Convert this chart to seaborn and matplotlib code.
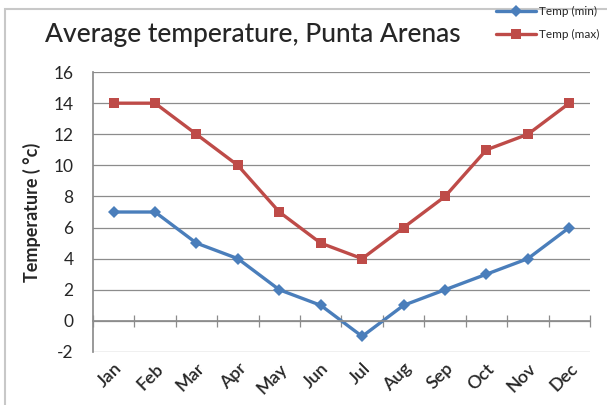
import pandas as pd
import matplotlib.pyplot as plt
import seaborn as sns
import numpy as np

# data
months = ['Jan', 'Feb', 'Mar', 'Apr', 'May', 'Jun', 'Jul', 'Aug', 'Sep', 'Oct', 'Nov', 'Dec']
temp_min = [7, 7, 5, 4, 2, 1, -1, 1, 2, 3, 4, 6]
temp_max = [14, 14, 12, 10, 7, 5, 4, 6, 8, 11, 12, 14]
yticks = list(range(-2, 17, 2))

df = pd.DataFrame({'idx': np.arange(len(months)), 'min': temp_min, 'max': temp_max})

sns.set_theme(style="white")
plt.rcParams['font.family'] = ['Lato', 'DejaVu Sans']

fig = plt.figure(figsize=(6.07, 4.05), dpi=100)
ax = fig.add_axes([0.153, 0.131, 0.819, 0.691])

# outer chart frame
fig.patches.append(plt.Rectangle((0.009, -0.02), 1.1, 0.998, transform=fig.transFigure,
                                 fill=False, edgecolor='#c8c8c8', lw=1.5))

sns.lineplot(data=df, x='idx', y='min', ax=ax, color='#4a7ebb', lw=2.4,
             marker='D', markersize=6, markeredgewidth=0, label='Temp (min)')
sns.lineplot(data=df, x='idx', y='max', ax=ax, color='#be4b48', lw=2.4,
             marker='s', markersize=7, markeredgewidth=0, label='Temp (max)')

ax.set_xlim(-0.5, len(months) - 0.5)
ax.set_ylim(yticks[0], yticks[-1])
ax.set_yticks(yticks)
ax.set_yticklabels([str(t) for t in yticks], fontsize=12.5)
ax.tick_params(axis='y', length=0, pad=14)
for t in yticks:
    ax.axhline(t, color='#8c8c8c', lw=0.9, zorder=0)

# category axis crossing at zero, with tick marks between categories
ax.spines['bottom'].set_position(('data', 0))
ax.spines['bottom'].set_color('#8c8c8c')
ax.set_xticks(np.arange(-0.5, len(months), 1.0))
ax.set_xticklabels([])
ax.tick_params(axis='x', direction='inout', length=8, width=0.9, color='#8c8c8c', bottom=True)
for s in ['top', 'right']:
    ax.spines[s].set_visible(False)
ax.spines['left'].set_color('#8c8c8c')

sec = ax.secondary_xaxis('bottom')
sec.set_xticks(range(len(months)))
sec.set_xticklabels(months, rotation=45, ha='right', rotation_mode='anchor',
                    fontsize=13, fontweight='semibold')
sec.tick_params(length=0, pad=6)
sec.spines['bottom'].set_visible(False)

ax.set_xlabel('')
ax.set_ylabel('Temperature ( °c)', fontsize=13, fontweight='bold', labelpad=9)

fig.text(0.074, 0.915, 'Average temperature, Punta Arenas', fontsize=19,
         fontweight='medium', va='center')

ax.get_legend().remove()
h, l = ax.get_legend_handles_labels()
fig.legend(h, l, loc='upper left', bbox_to_anchor=(0.80, 1.012), frameon=False,
           fontsize=8.5, labelspacing=1.0, handlelength=3.4, handletextpad=0.2)

fig.savefig('out.png', dpi=100)
